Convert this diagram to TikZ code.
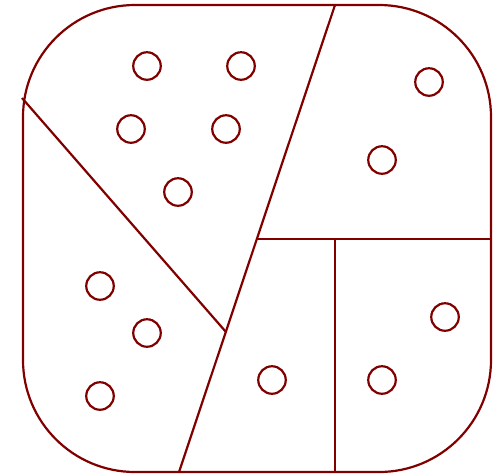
\documentclass[tikz,border=0pt]{standalone}
\begin{document}
\begin{tikzpicture}[x=1pt,y=-1pt,
  ln/.style={draw={rgb,255:red,128;green,0;blue,0},line width=2.2pt},
  dot/.style={ln,circle,minimum size=27.5pt,inner sep=0pt}]
\useasboundingbox (0,0) rectangle (497,475);
\draw[ln,rounded corners=112pt] (23,5) rectangle (491,472);
\coordinate (t) at (335,5);
\coordinate (b) at (179,472);
\coordinate (l) at (22,98);
\coordinate (m) at (226,332);
\coordinate (h1) at (257,239);
\coordinate (h2) at (491,239);
\coordinate (v1) at (335,239);
\coordinate (v2) at (335,472);
\draw[ln] (t) -- (b);
\draw[ln] (l) -- (m);
\draw[ln] (h1) -- (h2);
\draw[ln] (v1) -- (v2);
\foreach \n/\x/\y in {c1/147/66,c2/241/66,c3/131/129,c4/226/129,c5/178/192,
  c6/429/82,c7/382/160,c8/100/286,c9/147/333,c10/100/396,c11/445/317,c12/272/380,c13/382/380}
  \node[dot] (\n) at (\x,\y) {};
\end{tikzpicture}
\end{document}
